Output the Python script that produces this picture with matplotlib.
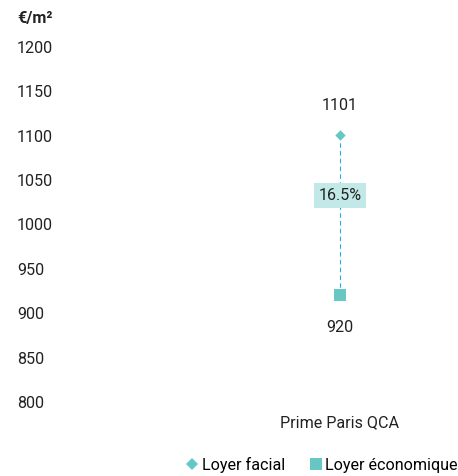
import matplotlib
matplotlib.use("Agg")
import matplotlib.pyplot as plt
from matplotlib.lines import Line2D

plt.rcParams['font.family'] = ['Roboto', 'DejaVu Sans']

categories = ['Prime Paris QCA']
loyer_facial = [1101]
loyer_economique = [920]
ecart_label = ['16.5%']
ecart_pos = [1033]
y_ticks = [800, 850, 900, 950, 1000, 1050, 1100, 1150, 1200]

c_facial = '#66c7c4'
c_eco = '#66c7c4'
c_line = '#1ab0ee'
c_box = '#c2e9e7'
fs = 11.6

W, H = 458, 476
fig = plt.figure(figsize=(W / 100, H / 100), dpi=100)
# axes from x=222..458 px, y=47..402 px
ax = fig.add_axes([222 / W, (H - 402) / H, (W - 222) / W, 355 / H])

xs = list(range(len(categories)))
for x, hi, lo in zip(xs, loyer_facial, loyer_economique):
    ax.plot([x, x], [lo, hi], linestyle=(0, (4, 3)), color=c_line, linewidth=0.8, zorder=1)
ax.scatter(xs, loyer_facial, marker='D', s=28, color=c_facial, zorder=3, linewidths=0)
ax.scatter(xs, loyer_economique, marker='s', s=75, color=c_eco, zorder=3, linewidths=0)

for x, hi, lo, lab, pos in zip(xs, loyer_facial, loyer_economique, ecart_label, ecart_pos):
    ax.annotate(str(hi), (x, hi), xytext=(0, 16), textcoords='offset points',
                ha='center', va='bottom', fontsize=fs, color='#222222')
    ax.annotate(str(lo), (x, lo), xytext=(0, -17.5), textcoords='offset points',
                ha='center', va='top', fontsize=fs, color='#222222')
    ax.text(x, pos, lab, ha='center', va='center', fontsize=fs, color='#222222', zorder=4,
            bbox=dict(boxstyle='square,pad=0.3', facecolor=c_box, edgecolor='none'))

ax.set_xlim(-0.5, 0.5)
ax.set_ylim(800, 1200)
ax.set_yticks(y_ticks)
ax.set_yticklabels([str(t) for t in y_ticks], ha='left', fontsize=fs, color='#222222')
ax.tick_params(axis='y', length=0, pad=(222 - 17) * 0.72)
ax.set_xticks(xs)
ax.set_xticklabels(categories, fontsize=fs, color='#222222')
ax.tick_params(axis='x', length=0, pad=9.5)
for s in ax.spines.values():
    s.set_visible(False)
ax.patch.set_alpha(0)

fig.text(17 / W, 1 - 18 / H, '€/m²', fontsize=fs, fontweight='bold', ha='left', va='center',
         color='#222222')

handles = [
    Line2D([], [], marker='D', linestyle='none', color=c_facial, markersize=6, markeredgewidth=0),
    Line2D([], [], marker='s', linestyle='none', color=c_eco, markersize=9, markeredgewidth=0),
]
fig.legend(handles, ['Loyer facial', 'Loyer économique'], loc='center',
           bbox_to_anchor=(321 / W, 1 - 465 / H), ncol=2, frameon=False, fontsize=fs,
           handletextpad=0.1, columnspacing=1.4, handlelength=1.0)

fig.savefig('out.png', dpi=100)
